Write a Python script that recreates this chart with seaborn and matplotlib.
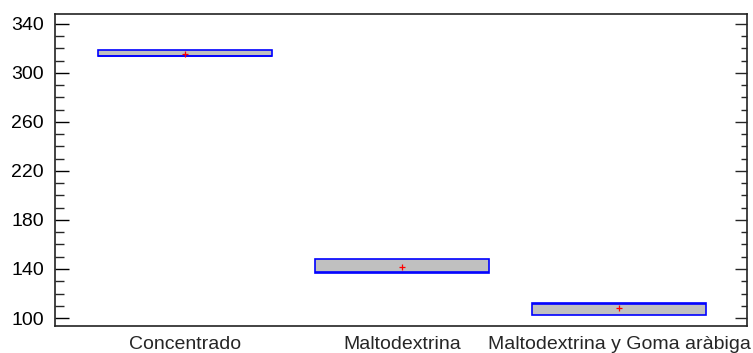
import numpy as np
import pandas as pd
import matplotlib
matplotlib.use("Agg")
import matplotlib.pyplot as plt
import seaborn as sns
from matplotlib.ticker import MultipleLocator

categories = ["Concentrado", "Maltodextrina", "Maltodextrina y Goma aràbiga"]
concentrado = [313.4, 313.4, 313.6, 318.8, 318.8]
maltodextrina = [137.0, 137.0, 137.3, 148.2, 148.2]
malto_goma = [102.6, 102.6, 111.6, 112.2, 112.2]
yticks = [100, 140, 180, 220, 260, 300, 340]

df = pd.DataFrame({
    "grupo": [categories[0]] * len(concentrado) + [categories[1]] * len(maltodextrina) + [categories[2]] * len(malto_goma),
    "valor": concentrado + maltodextrina + malto_goma,
})

sns.set_style("white")
plt.rcParams['font.family'] = ['Liberation Sans', 'DejaVu Sans']

fig = plt.figure(figsize=(7.53, 3.53), dpi=100)
ax = fig.add_axes([55/753, 1 - 326/353, (747-55)/753, (326-14)/353])

sns.boxplot(data=df, x="grupo", y="valor", order=categories, ax=ax,
            width=0.8, color="#C0C0C0", saturation=1, linewidth=1.2,
            showmeans=True, whis=np.inf,
            boxprops=dict(facecolor="#C0C0C0", edgecolor="#0000FF"),
            medianprops=dict(color="#0000FF", linewidth=1.2),
            whiskerprops=dict(color="#0000FF"),
            capprops=dict(color="#0000FF", linewidth=0),
            meanprops=dict(marker="+", markeredgecolor="red", markersize=5, markeredgewidth=0.9))

ax.set_xlim(-0.6, 2.59)
ax.set_ylim(93.5, 348)
ax.set_yticks(yticks)
ax.yaxis.set_minor_locator(MultipleLocator(10))
ax.set_xlabel("")
ax.set_ylabel("")
ax.tick_params(axis="y", which="major", direction="in", length=10, width=1, labelsize=14, pad=8, colors="black", left=True)
ax.tick_params(axis="y", which="minor", direction="in", length=6.5, width=1, left=True)
ax.tick_params(axis="x", length=0, labelsize=14, pad=7)
for s in ax.spines.values():
    s.set_visible(True)
    s.set_color("#222222")
    s.set_linewidth(1.2)

ax2 = ax.twinx()
ax2.set_ylim(ax.get_ylim())
ax2.set_yticks(yticks)
ax2.yaxis.set_minor_locator(MultipleLocator(10))
ax2.tick_params(axis="y", which="major", direction="in", length=9, width=1, labelright=False, right=True)
ax2.tick_params(axis="y", which="minor", direction="in", length=4.5, width=1, right=True)
for s in ax2.spines.values():
    s.set_visible(False)

fig.savefig("out.png", dpi=100)
